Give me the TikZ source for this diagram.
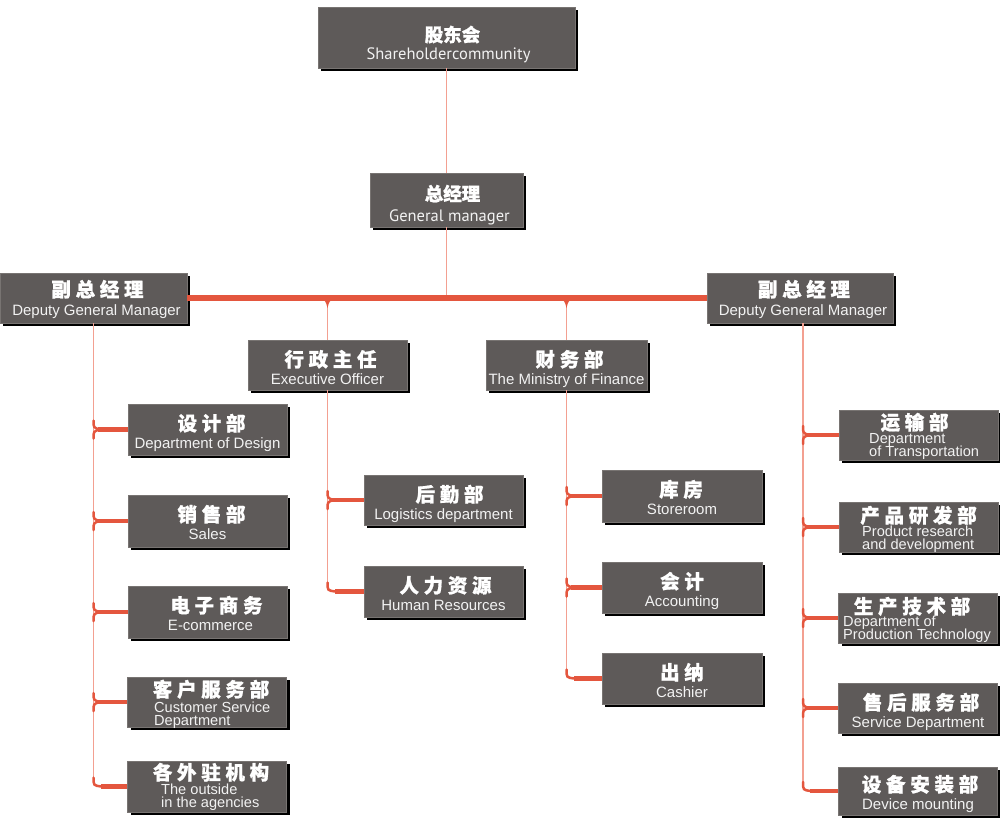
\documentclass[tikz,border=0pt]{standalone}
\usepackage{fontspec}
\setmainfont{Liberation Sans}
\newfontfamily\cjk{Noto Sans CJK SC}[BoldFeatures={FakeBold=0.9}]
\newfontfamily\ptsans{PT Sans}
\usetikzlibrary{shadows}

\definecolor{boxfill}{RGB}{94,90,89}
\definecolor{boxedge}{RGB}{120,116,114}
\definecolor{redln}{RGB}{228,86,62}
\definecolor{pinkln}{RGB}{243,160,145}
\definecolor{entext}{RGB}{242,242,242}

\newdimen\cjkgap \cjkgap=4.7pt
\newcommand\cjkspaced[1]{\cjkspacedaux#1\relax}
\def\cjkspacedaux#1#2{#1\ifx\relax#2\else\hskip\cjkgap\relax\expandafter\cjkspacedaux\expandafter#2\fi}

\tikzset{
  orgbox/.style={fill=boxfill, draw=boxedge, line width=0.6pt, inner sep=0pt,
    drop shadow={shadow xshift=3pt, shadow yshift=-3pt, fill=black, opacity=1}},
  cn/.style={text=white, font=\cjk\bfseries\fontsize{19.5}{20}\selectfont, inner sep=0pt, anchor=base},
  cntop/.style={text=white, font=\cjk\bfseries\fontsize{18.5}{20}\selectfont, inner sep=0pt, anchor=base},
  en/.style={text=entext, font=\fontsize{15}{15}\selectfont, inner sep=0pt, anchor=base},
  enl/.style={text=entext, font=\fontsize{14.6}{13}\selectfont, inner sep=0pt, anchor=base west},
  entop/.style={text=entext, font=\ptsans\fontsize{16.5}{16}\selectfont, inner sep=0pt, anchor=base},
  pinkthin/.style={draw=pinkln, line width=1.4pt},
  redmain/.style={draw=redln, line width=5.5pt},
  redthick/.style={draw=redln, line width=4.5pt},
  redarm/.style={draw=redln, line width=2.5pt, line cap=round},
}

\newcommand\midbr[2]{%
  \coordinate (#2j) at (#1 |- #2.west);
  \draw[redthick] ([xshift=4pt]#2j) -- (#2.west);
  \draw[redarm] ([yshift=9pt]#2j) .. controls ([yshift=2pt]#2j) .. ([xshift=6pt]#2j);
  \draw[redarm] ([yshift=-9pt]#2j) .. controls ([yshift=-2pt]#2j) .. ([xshift=6pt]#2j);
}
\newcommand\lastbr[2]{%
  \coordinate (#2j) at (#1 |- #2.west);
  \draw[redthick] ([xshift=7pt]#2j) -- (#2.west);
  \draw[redarm] ([yshift=9pt]#2j) .. controls ([yshift=1pt]#2j) .. ([xshift=8pt]#2j);
}

\begin{document}
\begin{tikzpicture}[x=1pt,y=1pt]
\useasboundingbox (0,0) rectangle (1000,-818);

% ---------- boxes ----------
\node[orgbox, minimum width=257pt, minimum height=61pt] (share) at (446.5,-37.5) {};
\node[orgbox, minimum width=153pt, minimum height=54pt] (gm) at (446.5,-200) {};
\node[orgbox, minimum width=187pt, minimum height=50pt] (dgmL) at (93.5,-298) {};
\node[orgbox, minimum width=186pt, minimum height=50pt] (dgmR) at (800,-298) {};
\node[orgbox, minimum width=159pt, minimum height=50pt] (exec) at (327.5,-365) {};
\node[orgbox, minimum width=161pt, minimum height=50pt] (fin) at (566.5,-365) {};

\node[orgbox, minimum width=159pt, minimum height=51pt] (design) at (207.5,-429.5) {};
\node[orgbox, minimum width=159pt, minimum height=52pt] (sales) at (207.5,-521) {};
\node[orgbox, minimum width=159pt, minimum height=52pt] (ecom) at (207.5,-612) {};
\node[orgbox, minimum width=159pt, minimum height=50pt] (cust) at (207,-702) {};
\node[orgbox, minimum width=159pt, minimum height=51pt] (outside) at (207,-786.5) {};

\node[orgbox, minimum width=159pt, minimum height=50pt] (logis) at (443.5,-500) {};
\node[orgbox, minimum width=159pt, minimum height=51pt] (human) at (443.5,-591.5) {};

\node[orgbox, minimum width=160pt, minimum height=52pt] (store) at (682,-496) {};
\node[orgbox, minimum width=160pt, minimum height=51pt] (acc) at (682,-587.5) {};
\node[orgbox, minimum width=160pt, minimum height=51pt] (cash) at (682,-678.5) {};

\node[orgbox, minimum width=159pt, minimum height=50pt] (trans) at (918.5,-435) {};
\node[orgbox, minimum width=159pt, minimum height=50pt] (prod) at (918.5,-527) {};
\node[orgbox, minimum width=159pt, minimum height=50pt] (prodtech) at (918,-618) {};
\node[orgbox, minimum width=159pt, minimum height=50pt] (serv) at (918,-708) {};
\node[orgbox, minimum width=159pt, minimum height=48pt] (device) at (918,-791) {};

% ---------- texts ----------
\node[cntop] (share-cn) at ([xshift=6pt,yshift=-35pt]share.north) {股东会};
\node[entop] (share-en) at ([xshift=2pt,yshift=-53pt]share.north) {Shareholdercommunity};
\node[cntop] (gm-cn) at ([xshift=6pt,yshift=-28pt]gm.north) {总经理};
\node[entop] (gm-en) at ([xshift=3pt,yshift=-49pt]gm.north) {General manager};

\node[cn] (dgmL-cn) at ([xshift=4pt,yshift=-24pt]dgmL.north) {\cjkspaced{副总经理}};
\node[en] (dgmL-en) at ([xshift=3pt,yshift=-43pt]dgmL.north) {Deputy General Manager};
\node[cn] (dgmR-cn) at ([xshift=4pt,yshift=-24pt]dgmR.north) {\cjkspaced{副总经理}};
\node[en] (dgmR-en) at ([xshift=3pt,yshift=-43pt]dgmR.north) {Deputy General Manager};
\node[cn] (exec-cn) at ([xshift=3pt,yshift=-27pt]exec.north) {\cjkspaced{行政主任}};
\node[en] (exec-en) at ([yshift=-45pt]exec.north) {Executive Officer};
\node[cn] (fin-cn) at ([xshift=3pt,yshift=-27pt]fin.north) {\cjkspaced{财务部}};
\node[en] (fin-en) at ([yshift=-45pt]fin.north) {The Ministry of Finance};

\node[cn] (design-cn) at ([xshift=4pt,yshift=-27pt]design.north) {\cjkspaced{设计部}};
\node[en] (design-en) at ([yshift=-45pt]design.north) {Department of Design};
\node[cn] (sales-cn) at ([xshift=4pt,yshift=-27pt]sales.north) {\cjkspaced{销售部}};
\node[en] (sales-en) at ([yshift=-45pt]sales.north) {Sales};
\node[cn] (ecom-cn) at ([xshift=9pt,yshift=-27pt]ecom.north) {\cjkspaced{电子商务}};
\node[en] (ecom-en) at ([xshift=3pt,yshift=-45pt]ecom.north) {E-commerce};
\node[cn] (cust-cn) at ([xshift=4pt,yshift=-20pt]cust.north) {\cjkspaced{客户服务部}};
\node[enl] (cust-e1) at (154,-712) {Customer Service};
\node[enl] (cust-e2) at (154,-725.5) {Department};
\node[cn] (outside-cn) at ([xshift=4pt,yshift=-19pt]outside.north) {\cjkspaced{各外驻机构}};
\node[enl] (outside-e1) at (161,-794) {The outside};
\node[enl] (outside-e2) at (161,-807) {in the agencies};

\node[cn] (logis-cn) at ([xshift=6pt,yshift=-27pt]logis.north) {\cjkspaced{后勤部}};
\node[en] (logis-en) at ([yshift=-45pt]logis.north) {Logistics department};
\node[cn] (human-cn) at ([xshift=2pt,yshift=-27pt]human.north) {\cjkspaced{人力资源}};
\node[en] (human-en) at ([yshift=-45pt]human.north) {Human Resources};

\node[cn] (store-cn) at ([xshift=-1pt,yshift=-27pt]store.north) {\cjkspaced{库房}};
\node[en] (store-en) at ([yshift=-45pt]store.north) {Storeroom};
\node[cn] (acc-cn) at ([yshift=-27pt]acc.north) {\cjkspaced{会计}};
\node[en] (acc-en) at ([yshift=-45pt]acc.north) {Accounting};
\node[cn] (cash-cn) at ([yshift=-27pt]cash.north) {\cjkspaced{出纳}};
\node[en] (cash-en) at ([yshift=-45pt]cash.north) {Cashier};

\node[cn] (trans-cn) at ([xshift=-4pt,yshift=-20pt]trans.north) {\cjkspaced{运输部}};
\node[enl] (trans-e1) at (869,-443.5) {Department};
\node[enl] (trans-e2) at (869,-456.5) {of Transportation};
\node[cn] (prod-cn) at ([yshift=-21pt]prod.north) {\cjkspaced{产品研发部}};
\node[enl] (prod-e1) at (862,-536) {Product research};
\node[enl] (prod-e2) at (862,-549.5) {and development};
\node[cn] (prodtech-cn) at ([xshift=-6pt,yshift=-21pt]prodtech.north) {\cjkspaced{生产技术部}};
\node[enl] (prodtech-e1) at (843,-626.5) {Department of};
\node[enl] (prodtech-e2) at (843,-639.5) {Production Technology};
\node[cn] (serv-cn) at ([xshift=3pt,yshift=-27pt]serv.north) {\cjkspaced{售后服务部}};
\node[en] (serv-en) at ([yshift=-45pt]serv.north) {Service Department};
\node[cn] (device-cn) at ([xshift=2pt,yshift=-25pt]device.north) {\cjkspaced{设备安装部}};
\node[en] (device-en) at ([yshift=-43pt]device.north) {Device mounting};

% ---------- connectors ----------
\coordinate (hub) at (gm.south |- dgmL.east);
\coordinate (n1) at (exec.north |- dgmL.east);
\coordinate (n2) at (fin.north |- dgmL.east);
\coordinate (vr) at ([xshift=3pt]dgmR.south);

\draw[pinkthin] (share.south) -- (gm.north);
\draw[pinkthin] (gm.south) -- (hub);
\draw[pinkthin] (n1) -- (exec.north);
\draw[pinkthin] (n2) -- (fin.north);

\coordinate (outsidej0) at (dgmL.south |- outside.west);
\coordinate (humanj0) at (exec.south |- human.west);
\coordinate (cashj0) at (fin.south |- cash.west);
\coordinate (devicej0) at (vr |- device.west);
\draw[pinkthin] (dgmL.south) -- ([yshift=9pt]outsidej0);
\draw[pinkthin] (exec.south) -- ([yshift=9pt]humanj0);
\draw[pinkthin] (fin.south) -- ([yshift=9pt]cashj0);
\draw[pinkthin] (vr) -- ([yshift=9pt]devicej0);

\draw[redmain] (dgmL.east) -- (dgmR.west);
\foreach \n in {n1,n2}{
  \fill[redln] ([xshift=-8pt,yshift=-1pt]\n) .. controls ([xshift=-2pt,yshift=-2.5pt]\n) .. ([yshift=-10pt]\n)
     .. controls ([xshift=2pt,yshift=-2.5pt]\n) .. ([xshift=8pt,yshift=-1pt]\n) -- cycle;
}

\midbr{dgmL.south}{design}
\midbr{dgmL.south}{sales}
\midbr{dgmL.south}{ecom}
\midbr{dgmL.south}{cust}
\lastbr{dgmL.south}{outside}

\midbr{exec.south}{logis}
\lastbr{exec.south}{human}

\midbr{fin.south}{store}
\midbr{fin.south}{acc}
\lastbr{fin.south}{cash}

\midbr{vr}{trans}
\midbr{vr}{prod}
\midbr{vr}{prodtech}
\midbr{vr}{serv}
\lastbr{vr}{device}
\end{tikzpicture}
\end{document}
